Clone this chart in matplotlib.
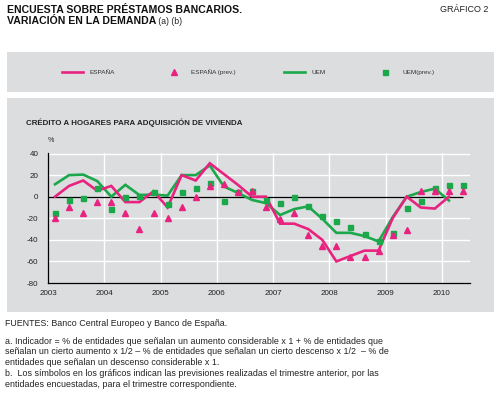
import matplotlib
matplotlib.use("Agg")
import matplotlib.pyplot as plt
from matplotlib.patches import Rectangle
import numpy as np

plt.rcParams['font.family'] = ['Liberation Sans', 'DejaVu Sans']

# ---------------- data ----------------
quarters_line = 29   # 2003Q1 .. 2010Q1
quarters_prev = 30   # 2003Q1 .. 2010Q2

espana = [0, 10, 15, 5.5, 10, -5, -5, 5,
          -10, 20, 15, 31, 21, 11, 0, 0,
          -25, -25, -30, -40, -60, -55, -50, -50,
          -20, 0, -10, -11, 0]
uem = [11.5, 20, 20.5, 14.5, 0, 11, 1.5, 2,
       1, 20, 20, 29, 9.5, 3.5, -3, -6,
       -17, -11.5, -9, -20.5, -33.5, -33.5, -36.5, -41.5,
       -19, 0, 4.3, 7.5, -3.5]
espana_prev = [-20, -10, -15, -5, -5, -15, -30, -15,
               -20, -10, 0, 10, 12, 4, 5, -10,
               -20.5, -15.5, -35.5, -45.5, -45.5, -55.5, -55.5, -50.5,
               -35.5, -30.5, 5, 5, 5, 5]
uem_prev = [-15.5, -2.8, -1.2, 8, -11.4, 0, 1, 4,
            -6.5, 4, 8.5, 13, -4, 4, 5, -3.5,
            -6, 0, -9, -17.5, -22.5, -28, -35, -41.5,
            -34, -10.7, -3.8, 8, 10.5, 11]

series_labels = ["ESPAÑA", "ESPAÑA (prev.)", "UEM", "UEM(prev.)"]
x_ticks = [2003, 2004, 2005, 2006, 2007, 2008, 2009, 2010]
y_ticks = [40, 20, 0, -20, -40, -60, -80]

x_line = 2003 + (np.arange(quarters_line) + 0.5) / 4
x_prev = 2003 + (np.arange(quarters_prev) + 0.5) / 4

PINK = "#e8237f"
GREEN = "#1ba84a"
BG = "#dcdddf"

W, H = 494, 404
fig = plt.figure(figsize=(W / 100, H / 100), dpi=100)

def fx(px):
    return px / W

def fy(py):
    return 1 - py / H

# grey panels
fig.patches.append(Rectangle((fx(7), fy(92)), 1 - fx(7), fy(52) - fy(92),
                             transform=fig.transFigure, facecolor=BG, edgecolor='none', zorder=-5))
fig.patches.append(Rectangle((fx(7), fy(312)), 1 - fx(7), fy(98) - fy(312),
                             transform=fig.transFigure, facecolor=BG, edgecolor='none', zorder=-5))

ax = fig.add_axes([fx(48), fy(283), fx(470) - fx(48), fy(153) - fy(283)])
ax.set_zorder(2)
ax.patch.set_visible(False)
ax.set_xlim(2003, 2010.5)
ax.set_ylim(-80, 40.5)

for yv in y_ticks:
    if yv not in (0, -80):
        ax.axhline(yv, color='white', lw=1.0, zorder=1)
for xv in x_ticks[1:]:
    ax.axvline(xv, color='white', lw=1.0, zorder=1)
ax.hlines(0, 2003, 2010.375, color='black', lw=0.9, zorder=1.5)

l1, = ax.plot(x_line, espana, color=PINK, lw=1.9, zorder=2.5, solid_joinstyle='miter')
l2, = ax.plot(x_line, uem, color=GREEN, lw=1.9, zorder=2, solid_joinstyle='miter')
m2, = ax.plot(x_prev, uem_prev, ls='none', marker='s', ms=3.6, color=GREEN, mec=GREEN, zorder=3)
m1, = ax.plot(x_prev, espana_prev, ls='none', marker='^', ms=3.8, color=PINK, mec=PINK, zorder=4)

for s in ['top', 'right']:
    ax.spines[s].set_visible(False)
for s in ['left', 'bottom']:
    ax.spines[s].set_color('black')
    ax.spines[s].set_linewidth(0.9)
ax.set_xticks(x_ticks)
ax.set_xticklabels([str(v) for v in x_ticks])
ax.set_yticks(y_ticks)
ax.set_yticklabels([str(v) for v in y_ticks])
ax.tick_params(length=0, labelsize=5.8, colors='#222222', pad=5)
ax.tick_params(axis='y', pad=7)

# texts
fig.text(fx(7), fy(10), "ENCUESTA SOBRE PRÉSTAMOS BANCARIOS.", fontsize=7.6,
         fontweight='bold', va='center', ha='left', color='#111111')
t2 = fig.text(fx(7), fy(21.5), "VARIACIÓN EN LA DEMANDA", fontsize=7.6,
              fontweight='bold', va='center', ha='left', color='#111111')
fig.text(fx(488), fy(10), "GRÁFICO 2", fontsize=6.5, va='center', ha='right', color='#222222')
ax.annotate(" (a) (b)", xy=(1, 0.5), xycoords=t2, va='center', ha='left',
            fontsize=6.2, color='#222222', annotation_clip=False)

fig.text(fx(26), fy(123), "CRÉDITO A HOGARES PARA ADQUISICIÓN DE VIVIENDA", fontsize=5.65,
         fontweight='bold', va='center', ha='left', color='#222222')
fig.text(fx(48), fy(141), "%", fontsize=5.2, va='center', ha='left', color='#222222')

fig.legend([l1, m1, l2, m2], series_labels, loc='center left',
           bbox_to_anchor=(fx(56.5), fy(72)), ncol=4, frameon=False,
           fontsize=4.6, handlelength=3.2, handletextpad=1.1, columnspacing=7.6,
           borderpad=0.4, labelcolor='#333333')

foot = ("FUENTES: Banco Central Europeo y Banco de España.")
fig.text(fx(5), fy(323), foot, fontsize=6.4, va='center', ha='left', color='#222222')
notes = [
    "a. Indicador = % de entidades que señalan un aumento considerable x 1 + % de entidades que",
    "señalan un cierto aumento x 1/2 – % de entidades que señalan un cierto descenso x 1/2  – % de",
    "entidades que señalan un descenso considerable x 1.",
    "b.  Los símbolos en los gráficos indican las previsiones realizadas el trimestre anterior, por las",
    "entidades encuestadas, para el trimestre correspondiente.",
]
for i, line in enumerate(notes):
    fig.text(fx(5), fy(341 + i * 10.8), line, fontsize=6.4, va='center', ha='left', color='#222222')

fig.savefig("out.png", dpi=100)
